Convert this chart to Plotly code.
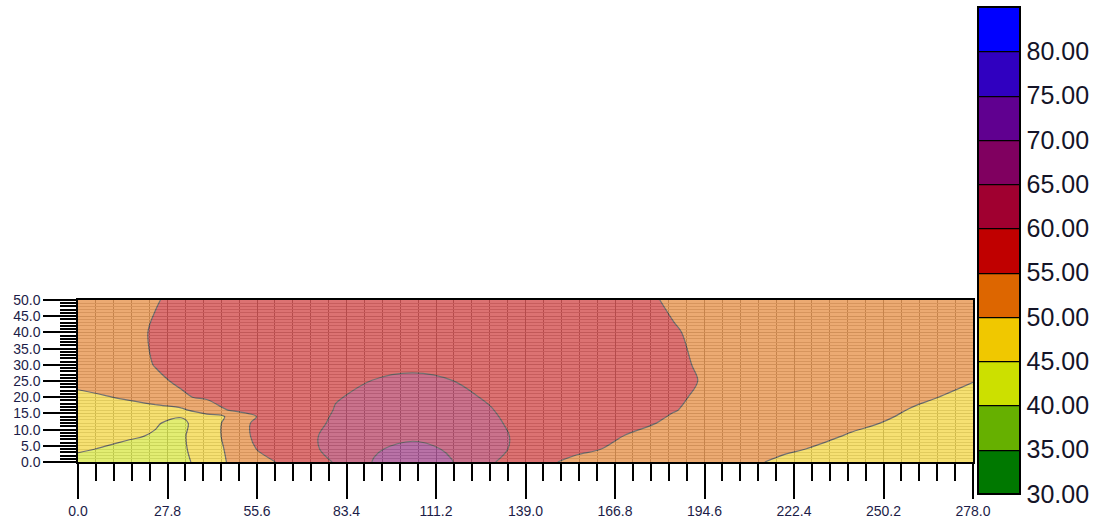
import plotly.graph_objects as go

# ---- data ----
x_nodes = [0, 8, 16, 24, 32, 40, 48, 56, 64, 72, 80, 92, 104, 116, 128, 140,
           155, 170, 185, 200, 220, 240, 260, 278]
y_nodes = [0, 4, 8, 12, 14, 16, 20, 25, 30, 40, 50]

z_y0 = [44.0, 43.6, 43.2, 42.8, 43.7, 47.1, 50.9, 53.4, 55.8, 58.0, 60.3, 65.3,
        67.5, 65.2, 60.6, 56.5, 54.0, 53.3, 52.1, 51.0, 49.5, 48.7, 47.8, 47.0]
z_y4 = [45.4, 44.8, 44.0, 43.1, 44.3, 47.2, 51.4, 55.3, 57.2, 59.2, 61.3, 64.5,
        66.5, 64.4, 61.2, 58.6, 55.8, 54.2, 53.0, 51.9, 50.3, 49.3, 48.3, 47.5]
z_y8 = [46.4, 45.9, 45.4, 44.7, 44.4, 47.5, 52.0, 56.3, 57.7, 59.6, 60.8, 62.4,
        64.0, 62.4, 60.8, 59.2, 57.1, 54.9, 53.8, 52.7, 51.2, 49.8, 48.8, 48.0]
z_y12 = [47.5, 46.8, 46.0, 45.3, 44.0, 47.6, 51.8, 56.4, 57.5, 59.3, 60.4, 61.5,
         62.5, 61.4, 60.4, 59.2, 57.6, 55.9, 54.5, 53.4, 51.9, 50.5, 49.4, 48.5]
z_y14 = [47.95, 47.5, 47.1, 46.6, 45.2, 48.2, 50.8, 55.3, 57.7, 59.2, 60.25, 61.1,
         61.85, 61.0, 60.25, 59.15, 57.7, 56.15, 54.8, 53.7, 52.25, 50.85, 49.6, 48.7]
z_y16 = [48.4, 48.2, 48.2, 48.0, 49.0, 52.7, 55.5, 56.7, 57.9, 59.1, 60.1, 60.7,
         61.2, 60.65, 60.1, 59.1, 57.8, 56.4, 55.1, 54.0, 52.6, 51.2, 49.8, 48.9]
z_y20 = [49.4, 49.7, 50.6, 52.7, 54.6, 55.5, 56.4, 57.3, 58.2, 59.1, 59.9, 60.4,
         60.8, 60.5, 59.8, 58.8, 57.7, 56.5, 55.3, 54.3, 53.0, 51.7, 50.4, 49.4]
z_y25 = [50.7, 52.0, 53.2, 54.5, 55.4, 56.0, 56.6, 57.3, 57.9, 58.6, 59.2, 60.1,
         60.3, 60.05, 59.3, 58.5, 57.5, 56.5, 55.5, 54.5, 53.4, 52.2, 51.0, 50.05]
z_y30 = [51.8, 52.9, 54.0, 55.1, 55.5, 56.0, 56.5, 57.0, 57.5, 57.9, 58.3, 59.0,
         59.7, 59.0, 58.4, 57.7, 56.9, 56.1, 55.3, 54.5, 53.5, 52.5, 51.5, 50.6]
z_y40 = [53.0, 53.8, 54.5, 55.2, 55.7, 56.1, 56.4, 56.8, 57.1, 57.4, 57.6, 57.9,
         58.0, 57.8, 57.4, 57.0, 56.3, 55.7, 55.1, 54.5, 53.8, 53.1, 52.4, 51.8]
z_y50 = [53.5, 54.0, 54.4, 54.9, 55.4, 55.8, 56.1, 56.4, 56.6, 56.8, 56.9, 57.0,
         57.0, 56.9, 56.6, 56.3, 55.9, 55.5, 54.8, 54.1, 53.4, 52.8, 52.2, 51.8]

x_ticks = [0.0, 27.8, 55.6, 83.4, 111.2, 139.0, 166.8, 194.6, 222.4, 250.2, 278.0]
y_ticks = [0.0, 5.0, 10.0, 15.0, 20.0, 25.0, 30.0, 35.0, 40.0, 45.0, 50.0]
cb_ticks = [30, 35, 40, 45, 50, 55, 60, 65, 70, 75, 80]
band_colors = ["#007800", "#66B000", "#CCE000", "#F0C800", "#DD6600", "#C00000",
               "#A00030", "#800060", "#600090", "#3000C0", "#0000FF"]

# ---- layout geometry (pixels) ----
W, H = 1099, 522
PL, PR, PT, PB = 78, 973, 300, 462
CB_L, CB_T, CB_B = 978, 7, 494

z = [z_y0, z_y4, z_y8, z_y12, z_y14, z_y16, z_y20, z_y25, z_y30, z_y40, z_y50]
n = len(band_colors)
colorscale = []
for i, c in enumerate(band_colors):
    colorscale.append([i / n, c])
    colorscale.append([(i + 1) / n, c])

pw, ph = PR - PL, PB - PT
fig = go.Figure()
fig.add_trace(go.Contour(
    x=x_nodes, y=y_nodes, z=z,
    zauto=False, zmin=30, zmax=85,
    colorscale=colorscale,
    autocontour=False,
    contours=dict(start=35, end=80, size=5, coloring="fill"),
    line=dict(color="black", width=1.2),
    opacity=0.55,
    hoverinfo="skip",
    colorbar=dict(
        xref="paper", x=(CB_L - PL) / pw, xanchor="left", xpad=0,
        yref="paper", y=(PB - (CB_T + CB_B) / 2) / ph, yanchor="middle", ypad=0,
        len=CB_B - CB_T, lenmode="pixels", thickness=42, thicknessmode="pixels",
        outlinewidth=2, outlinecolor="black",
        tickmode="array", tickvals=cb_ticks,
        ticktext=["%.2f" % v for v in cb_ticks],
        ticks="", ticklabelposition="outside",
        tickfont=dict(family="Liberation Sans", size=25, color="#141428"),
    ),
))

tickfont = dict(family="Liberation Sans", size=14, color="#1c1c48")
fig.update_layout(
    width=W, height=H,
    margin=dict(l=PL, r=W - PR, t=PT, b=H - PB, autoexpand=False),
    paper_bgcolor="white", plot_bgcolor="white",
    showlegend=False,
    xaxis=dict(
        range=[0, 278], tickmode="array", tickvals=x_ticks,
        ticktext=["%.1f" % v for v in x_ticks],
        ticks="outside", ticklen=35, tickwidth=2, tickcolor="black",
        showline=True, mirror=True, linecolor="black", linewidth=1.5,
        showgrid=True, gridcolor="#a8a8a8", gridwidth=1,
        zeroline=False, tickfont=tickfont,
        minor=dict(tickmode="linear", tick0=0, dtick=5.56, ticks="outside",
                   ticklen=17, tickwidth=2, tickcolor="black",
                   showgrid=True, gridcolor="#a8a8a8", gridwidth=1),
    ),
    yaxis=dict(
        range=[0, 50], tickmode="array", tickvals=y_ticks,
        ticktext=["%.1f" % v for v in y_ticks],
        ticks="outside", ticklen=33, tickwidth=2, tickcolor="black",
        showline=True, mirror=True, linecolor="black", linewidth=1.5,
        showgrid=True, gridcolor="#c4c4c4", gridwidth=1,
        zeroline=False, tickfont=tickfont,
        minor=dict(tickmode="linear", tick0=0, dtick=1, ticks="outside",
                   ticklen=16, tickwidth=1.5, tickcolor="black",
                   showgrid=True, gridcolor="#d0d0d0", gridwidth=1),
    ),
)

fig.write_html("out.html",
               config={"displayModeBar": False},
               post_script="document.body.style.margin='0';document.body.style.padding='0';")
